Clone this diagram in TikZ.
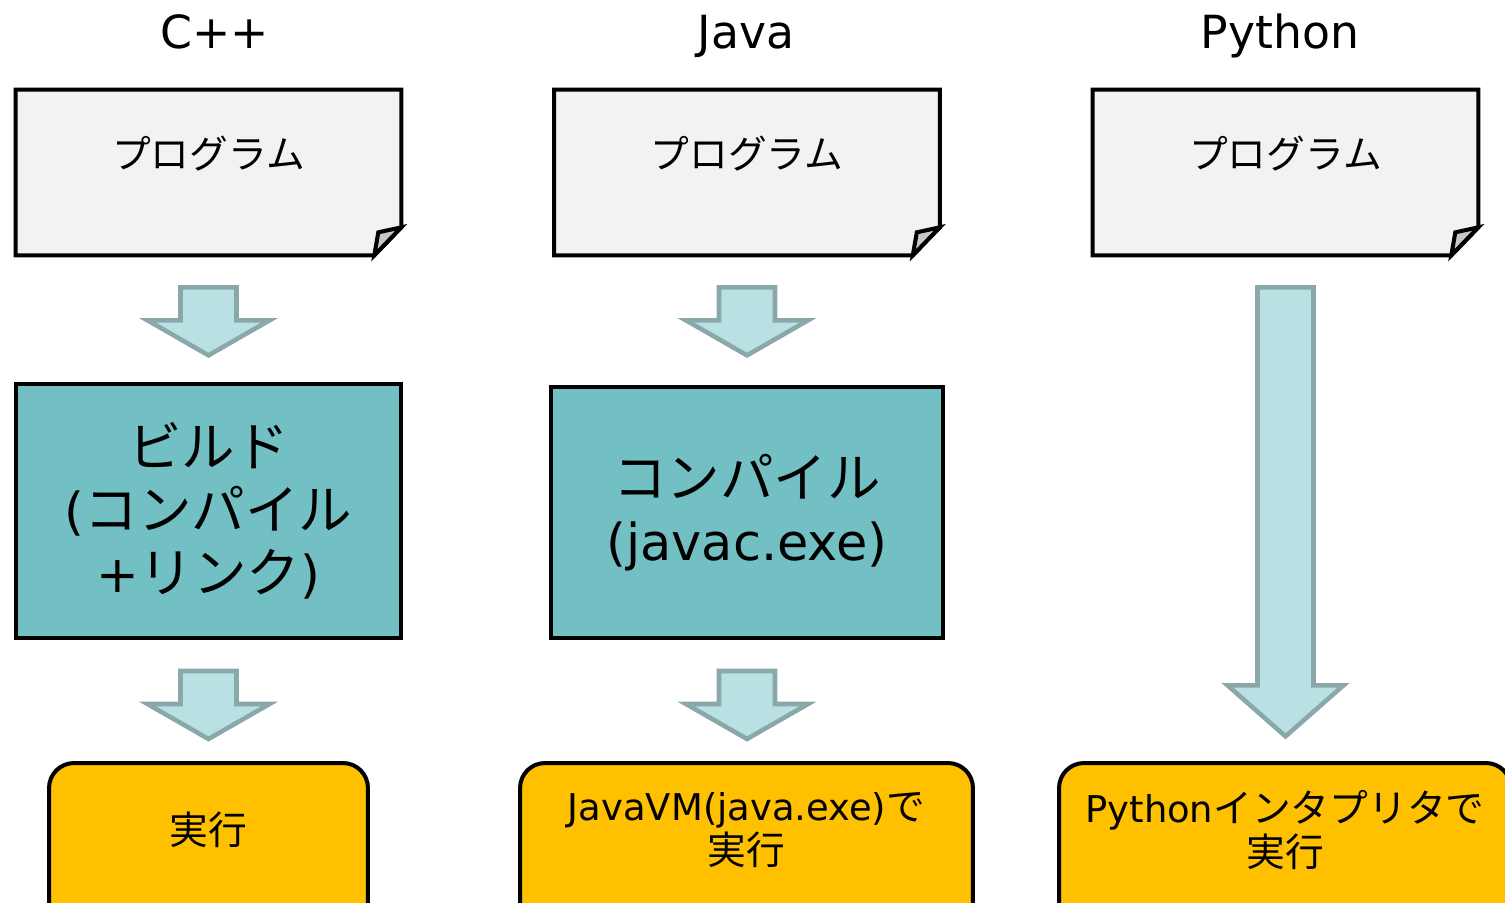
\documentclass[tikz,border=0pt]{standalone}
\usepackage{fontspec}
\setmainfont{DejaVu Sans}
\newfontfamily\jp[Scale=1.05]{Noto Sans CJK JP}
\usepackage{xcolor}
\usepackage{tikz}
\usetikzlibrary{shapes,arrows,positioning,calc}
\definecolor{docgray}{RGB}{242,242,242}
\definecolor{foldgray}{RGB}{200,200,200}
\definecolor{buildteal}{RGB}{114,191,196}
\definecolor{runyellow}{RGB}{255,192,0}
\definecolor{arrowfill}{RGB}{185,224,227}
\definecolor{arrowline}{RGB}{138,168,170}
\tikzstyle{docbox} = [rectangle, minimum width=7.70cm, minimum height=3.30cm, inner sep=0pt]
\tikzstyle{docline} = [line width=2.3pt, line join=miter, draw=black]
\tikzstyle{buildbox} = [rectangle, text centered, align=center, draw=black, line width=2.3pt, fill=buildteal, font=\fontsize{29}{36}\selectfont]
\tikzstyle{runbox} = [rectangle, rounded corners=0.5cm, minimum height=3.6cm, draw=black, line width=2.3pt, fill=runyellow]
\tikzstyle{runtext} = [align=center, font=\fontsize{21}{25}\selectfont]
\tikzstyle{langtitle} = [font=\fontsize{26}{31}\selectfont, anchor=base]
\tikzstyle{flow} = [line width=2.6pt, draw=arrowline, fill=arrowfill, line join=miter]

\newcommand{\dogear}[1]{%
  \draw[docline, fill=docgray] (#1.north west) -- (#1.north east) -- ($(#1.south east)+(0,-28)$) -- ($(#1.south east)+(-27,0)$) -- (#1.south west) -- cycle;
  \draw[docline, fill=foldgray] ($(#1.south east)+(-27,0)$) -- ($(#1.south east)+(-23,-23)$) -- ($(#1.south east)+(0,-28)$) -- cycle;}
\newcommand{\flowdown}[4]{%
  \draw[flow] (#1) ++(-28,0) -- ++(56,0) -- ++(0,#2-#3) -- ++(#4-28,0) -- ++(-#4,#3) -- ++(-#4,-#3) -- ++(#4-28,0) -- cycle;}

\begin{document}
\begin{tikzpicture}[x=0.02cm, y=-0.02cm]
\useasboundingbox (0,0) rectangle (1505,903);
\clip (0,0) rectangle (1505,903);

% Langages
\node (cpp) [langtitle] at (215,48) {C++};
\node (java) [langtitle] at (746,48) {Java};
\node (python) [langtitle] at (1280,48) {Python};

% Programmes
\node (doc1) [docbox] at (208.5,172.5) {};
\dogear{doc1}
\node (prog1) [runtext] at (208.5,154) {\jp プログラム};
\node (doc2) [docbox] at (747,172.5) {};
\dogear{doc2}
\node (prog2) [runtext] at (747,154) {\jp プログラム};
\node (doc3) [docbox] at (1285.5,172.5) {};
\dogear{doc3}
\node (prog3) [runtext] at (1285.5,154) {\jp プログラム};

% Compilation
\node (build1) [buildbox, minimum width=7.70cm, minimum height=5.08cm] at (208.5,511) {{\jp ビルド}\\({\jp コンパイル}\\+{\jp リンク})};
\node (build2) [buildbox, minimum width=7.84cm, minimum height=5.02cm] at (747,512.5) {{\jp コンパイル}\\(javac.exe)};

% Execution
\node (run1) [runbox, minimum width=6.38cm] at (208.5,853) {};
\node (run1text) [runtext] at (208.5,830) {\jp 実行};
\node (run2) [runbox, minimum width=9.06cm] at (746.5,853) {};
\node (run2text) [runtext] at (746.5,830) {JavaVM(java.exe){\jp で}\\{\jp 実行}};
\node (run3) [runbox, minimum width=9.04cm] at (1285,853) {};
\node (run3text) [runtext] at (1285,830) {Python{\jp インタプリタで}\\{\jp 実行}};

% Fleches
\flowdown{$(doc1.south)+(0,32)$}{68}{35}{61}
\flowdown{$(doc2.south)+(0,32)$}{68}{35}{61}
\flowdown{$(build1.south)+(0,31)$}{68}{35}{61}
\flowdown{$(build2.south)+(0,31)$}{68}{35}{61}
\flowdown{$(doc3.south)+(0,32)$}{449}{51}{58}

\end{tikzpicture}
\end{document}
